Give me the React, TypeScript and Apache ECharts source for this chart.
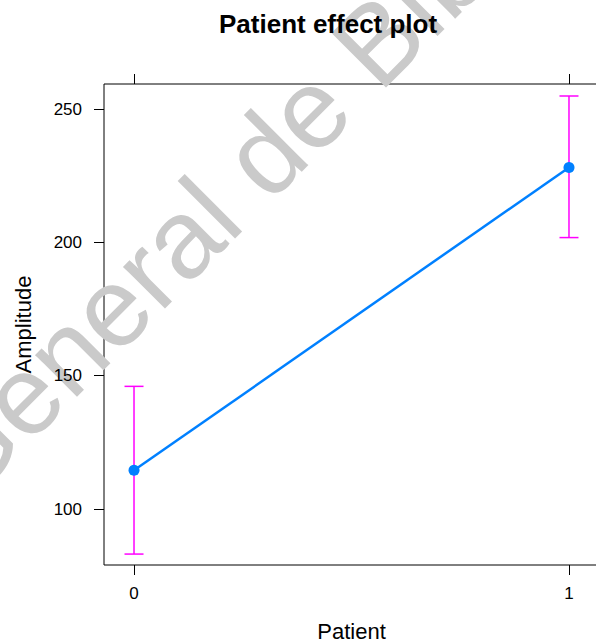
import React, { useEffect, useRef } from "react";
import * as echarts from "echarts";

const patientLevels = [0, 1];
const fitValues = [114.5, 228.1];
const lowerValues = [83.1, 201.8];
const upperValues = [146.0, 254.9];
const yTicks = [100, 150, 200, 250];
const xTicks = [0, 1];
const watermarkText = "General de Bib";

const FONT = "'Liberation Sans', Arial, Helvetica, sans-serif";

export default function App() {
  const ref = useRef<HTMLDivElement>(null);

  useEffect(() => {
    if (!ref.current) return;
    const chart = echarts.init(ref.current, undefined, { renderer: "svg" });

    const lineData = patientLevels.map((x, i) => [x, fitValues[i]]);
    const barData = patientLevels.map((x, i) => [x, lowerValues[i], upperValues[i]]);
    const wmSize = 112;

    chart.setOption({
      animation: false,
      backgroundColor: "#ffffff",
      title: {
        text: "Patient effect plot",
        left: 219,
        top: 11,
        padding: 0,
        textStyle: { fontFamily: FONT, fontSize: 26, fontWeight: "bold", color: "#000" },
      },
      graphic: [
        {
          type: "group",
          x: -34,
          y: 508,
          rotation: Math.PI / 4,
          z: -10,
          silent: true,
          children: [
            {
              type: "text",
              x: 0,
              y: -0.3465 * wmSize,
              style: {
                text: watermarkText,
                fontFamily: FONT,
                fontSize: wmSize,
                fill: "#cacaca",
                align: "left",
                verticalAlign: "middle",
              },
            },
          ],
        },
      ],
      grid: {
        left: 104,
        top: 84,
        width: 495,
        height: 481,
        show: true,
        borderColor: "#000",
        borderWidth: 1,
        backgroundColor: "transparent",
        containLabel: false,
        outerBoundsMode: "none",
      },
      xAxis: [
        {
          type: "value",
          position: "bottom",
          min: -0.069,
          max: 1.069,
          name: "Patient",
          nameLocation: "middle",
          nameGap: 55,
          nameTextStyle: { fontFamily: FONT, fontSize: 22, color: "#000" },
          axisLine: { show: false, onZero: false },
          splitLine: { show: false },
          axisTick: { show: true, length: 10, customValues: xTicks, lineStyle: { color: "#000", width: 1 } },
          axisLabel: { show: true, customValues: xTicks, margin: 20, fontFamily: FONT, fontSize: 17, color: "#000" },
        },
        {
          type: "value",
          position: "top",
          min: -0.069,
          max: 1.069,
          axisLine: { show: false, onZero: false },
          splitLine: { show: false },
          axisTick: { show: true, length: 10, customValues: xTicks, lineStyle: { color: "#000", width: 1 } },
          axisLabel: { show: false },
        },
      ],
      yAxis: {
        type: "value",
        position: "left",
        min: 79,
        max: 259.4,
        name: "Amplitude",
        nameLocation: "middle",
        nameRotate: 90,
        nameGap: 70,
        nameTextStyle: { fontFamily: FONT, fontSize: 22, color: "#000" },
        axisLine: { show: false, onZero: false },
        splitLine: { show: false },
        axisTick: { show: true, length: 10, customValues: yTicks, lineStyle: { color: "#000", width: 1 } },
        axisLabel: { show: true, customValues: yTicks, margin: 22, fontFamily: FONT, fontSize: 17, color: "#000" },
      },
      series: [
        {
          type: "custom",
          xAxisIndex: 0,
          yAxisIndex: 0,
          z: 2,
          data: barData,
          renderItem: (params: any, api: any) => {
            const x = api.value(0);
            const lo = api.coord([x, api.value(1)]);
            const hi = api.coord([x, api.value(2)]);
            const hw = 9.5;
            const st = { stroke: "#ff00ff", lineWidth: 1.5 };
            return {
              type: "group",
              children: [
                { type: "line", shape: { x1: lo[0], y1: lo[1], x2: hi[0], y2: hi[1] }, style: st },
                { type: "line", shape: { x1: lo[0] - hw, y1: lo[1], x2: lo[0] + hw, y2: lo[1] }, style: st },
                { type: "line", shape: { x1: hi[0] - hw, y1: hi[1], x2: hi[0] + hw, y2: hi[1] }, style: st },
              ],
            };
          },
        },
        {
          type: "line",
          xAxisIndex: 0,
          yAxisIndex: 0,
          z: 3,
          data: lineData,
          symbol: "circle",
          symbolSize: 11,
          showSymbol: true,
          lineStyle: { color: "#0080ff", width: 2.5 },
          itemStyle: { color: "#0080ff", borderWidth: 0 },
        },
      ],
    });

    return () => chart.dispose();
  }, []);

  return (
    <div
      ref={ref}
      style={{ position: "fixed", left: 0, top: 0, width: 596, height: 642 }}
    />
  );
}
